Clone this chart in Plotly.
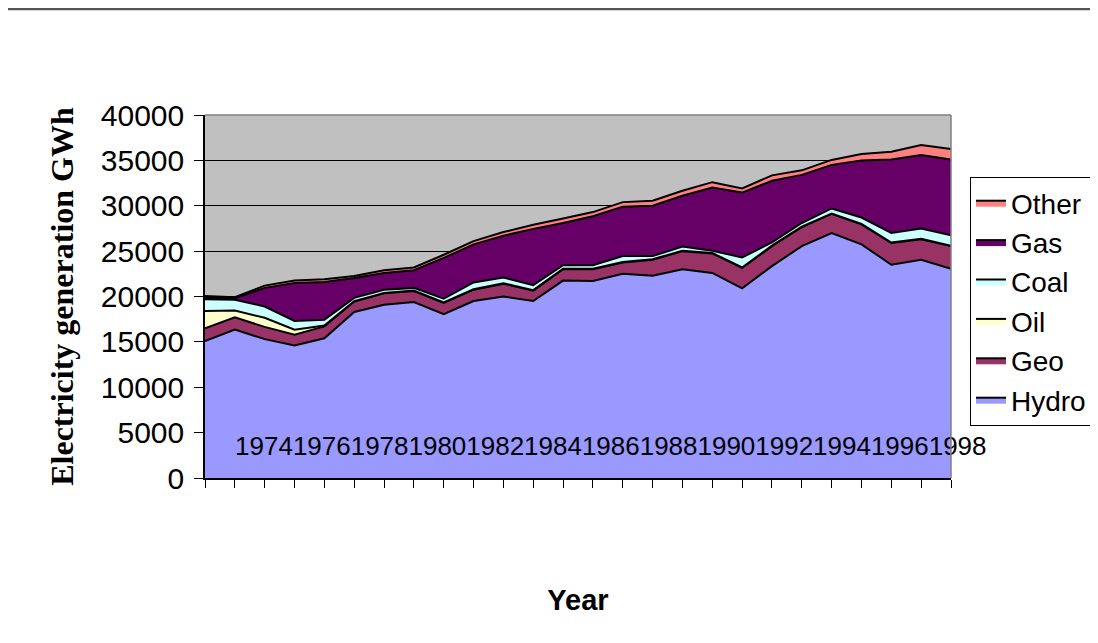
import plotly.graph_objects as go

years = list(range(1974, 2000))
year_labels = [str(y) for y in range(1974, 1999, 2)]

hydro = [15100, 16350, 15300, 14600, 15400, 18300, 19100, 19400, 18050, 19500, 20000, 19500, 21750,
         21700, 22500, 22300, 23000, 22600, 20900, 23350, 25550, 27000, 25750, 23500, 24050, 23050]
geo = [1400, 1350, 1350, 1200, 1300, 1150, 1250, 1200, 1250, 1250, 1400, 1150, 1250,
       1300, 1250, 1750, 2000, 2150, 2250, 2200, 2100, 2100, 2200, 2400, 2250, 2500]
oil = [1900, 750, 1000, 550, 100, 50, 50, 50, 50, 50, 50, 50, 50,
       50, 50, 50, 50, 50, 50, 50, 50, 50, 50, 50, 50, 50]
coal = [1300, 1200, 1250, 950, 650, 350, 350, 300, 400, 750, 650, 550, 400,
        400, 650, 350, 450, 250, 1100, 350, 400, 550, 700, 1050, 1150, 1150]
gas = [200, 150, 2050, 4200, 4150, 2200, 1850, 1950, 4500, 4200, 4600, 6200, 4650,
       5400, 5450, 5550, 5600, 6950, 7150, 6800, 5300, 4800, 6300, 8100, 8100, 8350]
other = [150, 120, 250, 270, 300, 200, 300, 300, 350, 350, 400, 450, 500,
         450, 500, 550, 550, 600, 450, 600, 500, 550, 700, 850, 1100, 1150]

series = [
    ("Hydro", hydro, "#9999FF"),
    ("Geo", geo, "#993366"),
    ("Oil", oil, "#FFFFCC"),
    ("Coal", coal, "#CCFFFF"),
    ("Gas", gas, "#660066"),
    ("Other", other, "#FF8080"),
]

FONT = "Arial, Liberation Sans, sans-serif"

fig = go.Figure()
for name, vals, color in series:
    fig.add_trace(go.Scatter(
        x=years, y=vals, name=name, stackgroup="one", mode="lines",
        line=dict(color="black", width=2), fillcolor=color,
        legendgroup=name,
    ))

# page geometry (screen px); the page body adds an 8px offset
OFF = 8
W, H = 1098 - OFF, 643 - OFF
L, R, T, B = 205 - OFF, 951 - OFF, 115 - OFF, 478 - OFF
pxw = (R - L) / (years[-1] - years[0])
# label centres as drawn in the reference (labels run together)
shift = 20
label_pos = [years[0] + (264 - OFF + 57.8 * k - L - shift) / pxw for k in range(len(year_labels))]

fig.update_layout(
    width=W, height=H,
    margin=dict(l=L, r=W - R, t=T, b=H - B, pad=0, autoexpand=False),
    paper_bgcolor="white", plot_bgcolor="#C0C0C0",
    font=dict(family=FONT, color="black", size=26),
    showlegend=True,
    legend=dict(
        x=(970 - OFF - L) / (R - L), y=(B - (177 - OFF)) / (B - T), xanchor="left", yanchor="top",
        bgcolor="white", bordercolor="black", borderwidth=1,
        traceorder="reversed", font=dict(size=28, family=FONT),
    ),
    xaxis=dict(
        range=[years[0], years[-1]], showgrid=False, zeroline=False,
        tickmode="array", tickvals=label_pos, ticktext=year_labels, ticks="",
        tickangle=0, ticklabelposition="outside", ticklabelstandoff=-56, ticklabelshift=shift,
        tickfont=dict(size=26, family=FONT),
        minor=dict(tickmode="linear", tick0=years[0], dtick=1, ticks="outside", ticklen=8,
                   tickcolor="black", tickwidth=1, showgrid=False),
        showline=True, linecolor="black", linewidth=1.5,
        title=dict(text="<b>Year</b>", font=dict(size=29, family=FONT), standoff=130),
    ),
    yaxis=dict(
        range=[0, 40000], dtick=5000, tick0=0, tickformat="d", showgrid=True,
        gridcolor="black", gridwidth=1,
        zeroline=False, ticks="outside", ticklen=9, tickcolor="black",
        ticklabelstandoff=4,
        showline=True, linecolor="black", linewidth=1.5,
        tickfont=dict(size=30, family=FONT),
        title=dict(text="<b>Electricity generation GWh</b>",
                   font=dict(size=32, family="Times New Roman, Liberation Serif, serif"), standoff=18),
    ),
    shapes=[
        dict(type="line", xref="x domain", yref="y domain", x0=0, x1=1, y0=1, y1=1,
             line=dict(color="#808080", width=1.5), layer="above"),
        dict(type="line", xref="x domain", yref="y domain", x0=1, x1=1, y0=0, y1=1,
             line=dict(color="#808080", width=1.5), layer="above"),
        dict(type="line", xref="x domain", yref="y domain",
             x0=(0 - L) / (R - L), x1=(W - L) / (R - L),
             y0=(B - 1) / (B - T), y1=(B - 1) / (B - T),
             line=dict(color="#555555", width=2.5), layer="above"),
    ],
)

fig.write_html("out.html")
